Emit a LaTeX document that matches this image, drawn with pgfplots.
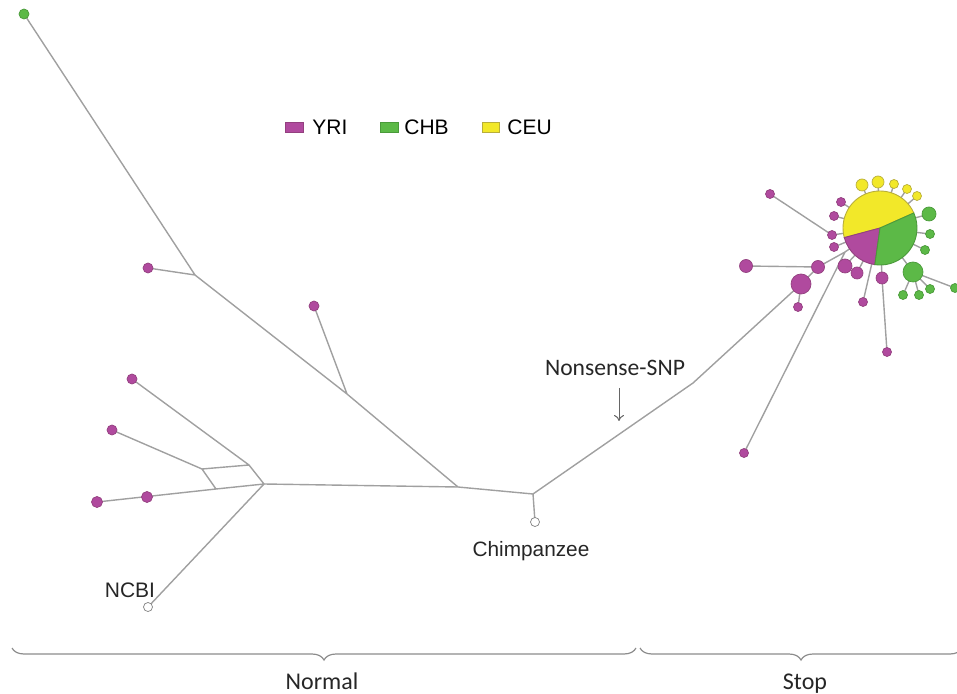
\documentclass[border=0pt]{standalone}
\usepackage{fontspec}
\usepackage{pgfplots}
\pgfplotsset{compat=1.18}
\usetikzlibrary{decorations.pathreplacing,arrows.meta}
\newfontfamily\arialf{Liberation Sans}
\newfontfamily\calf{Carlito}

\definecolor{yri}{HTML}{B04A9E}
\definecolor{yriD}{HTML}{93407F}
\definecolor{chb}{HTML}{5CB947}
\definecolor{chbD}{HTML}{4A9A3A}
\definecolor{ceu}{HTML}{F2E829}
\definecolor{ceuD}{HTML}{B8AE3A}
\definecolor{edgegray}{HTML}{A0A0A0}

% pie for the central haplotype: CEU / YRI / CHB shares (in degrees)
\pgfdeclareplotmark{hubpie}{%
  \pgfsetlinewidth{0.45pt}%
  \fill[ceu, draw=ceuD] (0,0) -- (24:18.5pt) arc[start angle=24, end angle=195, radius=18.5pt] -- cycle;
  \fill[yri, draw=yriD] (0,0) -- (195:18.5pt) arc[start angle=195, end angle=262, radius=18.5pt] -- cycle;
  \fill[chb, draw=chbD] (0,0) -- (262:18.5pt) arc[start angle=262, end angle=384, radius=18.5pt] -- cycle;
}

\pgfplotsset{
  hapnode/.style n args={2}{scatter, only marks, mark=*,
    scatter/use mapped color={draw=#2, fill=#1},
    visualization depends on={0.5*\thisrow{r} \as \msize},
    scatter/@pre marker code/.append style={/tikz/mark size=\msize},
    mark options={line width=0.35pt}},
  edge/.style={no marks, color=edgegray, line width=0.7pt},
}

\begin{document}
\begin{tikzpicture}
\begin{axis}[scale only axis, width=478.5pt, height=347pt,
  xmin=0, xmax=957, ymin=0, ymax=694, y dir=reverse,
  hide axis, clip=false, unbounded coords=jump]

% network edges
\addplot[edge] table[row sep=\\]{x y\\
24 14\\ 195 275\\ nan nan\\
148 268\\ 195 275\\ nan nan\\
195 275\\ 347 394\\ 458 487\\ nan nan\\
314 306\\ 347 394\\ nan nan\\
264 484\\ 458 487\\ 533 494\\ nan nan\\
533 494\\ 535 522\\ nan nan\\
533 494\\ 693 383\\ 801 284\\ nan nan\\
132 379\\ 249 465\\ 264 484\\ nan nan\\
112 430\\ 202 469\\ 216 489\\ nan nan\\
202 469\\ 249 465\\ nan nan\\
97 502\\ 216 489\\ 264 484\\ nan nan\\
148 607\\ 264 484\\ nan nan\\
801 284\\ 818 267\\ 845 252\\ 880 228\\ nan nan\\
801 284\\ 798 307\\ nan nan\\
818 267\\ 746 266\\ nan nan\\
744 453\\ 845 252\\ nan nan\\
770 194\\ 832 235\\ 880 228\\ nan nan\\
841 202\\ 880 228\\ nan nan\\
834 216\\ 880 228\\ nan nan\\
834 247\\ 880 228\\ nan nan\\
845 266\\ 880 228\\ nan nan\\
857 273\\ 880 228\\ nan nan\\
887 352\\ 882 278\\ 880 228\\ nan nan\\
863 302\\ 880 228\\ nan nan\\
862 185\\ 880 228\\ nan nan\\
878 182\\ 880 228\\ nan nan\\
894 184\\ 880 228\\ nan nan\\
907 189\\ 880 228\\ nan nan\\
917 196\\ 880 228\\ nan nan\\
929 214\\ 880 228\\ nan nan\\
930 234\\ 880 228\\ nan nan\\
925 250\\ 880 228\\ nan nan\\
913 272\\ 880 228\\ nan nan\\
903 295\\ 913 272\\ 919 295\\ nan nan\\
930 289\\ 913 272\\ 955 288\\
};

% central haplotype
\addplot[only marks, mark=hubpie] coordinates {(880,228)};

% YRI haplotypes
\addplot[hapnode={yri}{yriD}] table[row sep=\\]{x y r\\
148 268 5\\ 314 306 5\\ 132 379 5\\ 112 430 5\\
97 502 5.5\\ 147 497 5.5\\ 770 194 4.5\\ 746 266 6.5\\ 818 267 6.5\\
801 284 10\\ 798 307 4.5\\ 744 453 4.5\\ 841 202 4.5\\ 834 216 4.5\\
832 235 4.5\\ 834 247 4.5\\ 845 266 7\\ 857 273 6\\ 882 278 6\\
863 302 4.5\\ 887 352 4.5\\
};

% CHB haplotypes
\addplot[hapnode={chb}{chbD}] table[row sep=\\]{x y r\\
24 14 5\\ 929 214 7\\ 930 234 4.5\\ 925 250 4.5\\ 913 272 10\\
903 295 4.5\\ 919 295 4.5\\ 930 289 4.5\\ 955 288 4.5\\
};

% CEU haplotypes
\addplot[hapnode={ceu}{ceuD}] table[row sep=\\]{x y r\\
862 185 6\\ 878 182 6\\ 894 184 4.5\\ 907 189 4.5\\ 917 196 4.5\\
};

% outgroups
\addplot[hapnode={white}{gray}] table[row sep=\\]{x y r\\
535 522 4.5\\ 148 607 4.5\\
};

% legend
\fill[yri, draw=yriD, line width=0.3pt] (axis cs:285,122) rectangle (axis cs:303,132);
\node[anchor=west, inner sep=0pt, font=\arialf\fontsize{10.5}{12}\selectfont] at (axis cs:312,127) {YRI};
\fill[chb, draw=chbD, line width=0.3pt] (axis cs:380,122) rectangle (axis cs:398,132);
\node[anchor=west, inner sep=0pt, font=\arialf\fontsize{10.5}{12}\selectfont] at (axis cs:404,127) {CHB};
\fill[ceu, draw=ceuD, line width=0.3pt] (axis cs:482,122) rectangle (axis cs:499,132);
\node[anchor=west, inner sep=0pt, font=\arialf\fontsize{10.5}{12}\selectfont] at (axis cs:507,127) {CEU};

% labels
\node[anchor=base, inner sep=0pt, font=\arialf\fontsize{10.4}{12}\selectfont, text=black!85] at (axis cs:531,556) {Chimpanzee};
\node[anchor=base, inner sep=0pt, font=\arialf\fontsize{10.5}{12}\selectfont, text=black!85] at (axis cs:130,597) {NCBI};
\node[anchor=base, inner sep=0pt, font=\calf\fontsize{11.8}{13}\selectfont, text=black!85] at (axis cs:615,376) {Nonsense-SNP};
\draw[-{To[length=3pt,width=5pt]}, color=black!60, line width=0.5pt] (axis cs:619,388) -- (axis cs:619,421);

% groups
\draw[decorate, decoration={brace, mirror, amplitude=6pt}, color=black!45, line width=0.6pt] (axis cs:12,648) -- (axis cs:636,648);
\draw[decorate, decoration={brace, mirror, amplitude=6pt}, color=black!45, line width=0.6pt] (axis cs:640,648) -- (axis cs:962,648);
\node[anchor=base, inner sep=0pt, font=\calf\fontsize{12}{13}\selectfont, text=black!85] at (axis cs:322,689) {Normal};
\node[anchor=base, inner sep=0pt, font=\calf\fontsize{12}{13}\selectfont, text=black!85] at (axis cs:805,689) {Stop};
\end{axis}
\pgfresetboundingbox
\path[use as bounding box] (current axis.south west) rectangle (current axis.north east);
\end{tikzpicture}
\end{document}
